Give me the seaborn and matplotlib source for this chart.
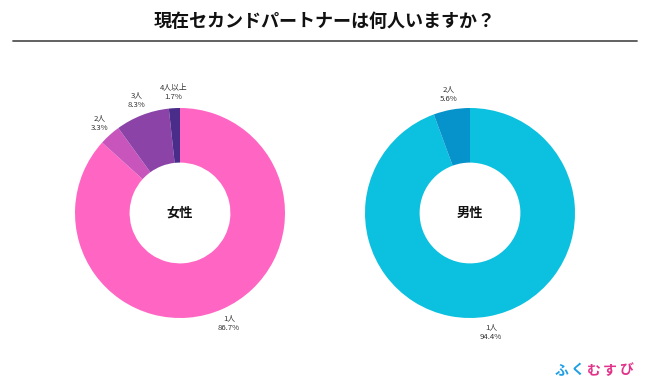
import matplotlib
matplotlib.use("Agg")
import matplotlib.pyplot as plt
import seaborn as sns
from matplotlib.lines import Line2D

sns.set_theme(style="white")
plt.rcParams['font.family'] = ['Noto Sans CJK JP', 'DejaVu Sans']

title = "現在セカンドパートナーは何人いますか？"
female_labels = ["1人", "2人", "3人", "4人以上"]
female_values = [86.7, 3.3, 8.3, 1.7]
female_colors = ["#FF66C4", "#C855BC", "#8C43A8", "#4A2D8A"]
male_labels = ["1人", "2人"]
male_values = [94.4, 5.6]
male_colors = ["#0CC0DF", "#0693CB"]

W, H = 650, 390
fig = plt.figure(figsize=(6.5, 3.9), dpi=100)
fig.patch.set_facecolor("white")

R = 105  # pixel radius
SPAN = 1.4


def make_ax(cx, cy):
    half = R * SPAN
    ax = fig.add_axes([(cx - half) / W, (H - cy - half) / H, 2 * half / W, 2 * half / H])
    ax.set_xlim(-SPAN, SPAN)
    ax.set_ylim(-SPAN, SPAN)
    ax.set_aspect("equal")
    ax.axis("off")
    return ax


def donut(ax, labels, values, colors, center_text):
    texts_in = [f"{l}\n{v:.1f}%" for l, v in zip(labels, values)]
    wedges, texts = ax.pie(values, labels=texts_in, colors=sns.color_palette(colors),
                           startangle=90, counterclock=False, radius=1,
                           labeldistance=1.15,
                           wedgeprops=dict(width=0.52, edgecolor="none"),
                           textprops=dict(fontsize=5.6, color="#333333", linespacing=1.3))
    for t in texts:
        t.set_ha("center")
        t.set_va("center")
        t.set_multialignment("center")
    ax.set_xlim(-SPAN, SPAN)
    ax.set_ylim(-SPAN, SPAN)
    ax.text(0, 0, center_text, ha="center", va="center", fontsize=9.5,
            fontweight="bold", color="#111111")


ax1 = make_ax(180, 213)
donut(ax1, female_labels, female_values, female_colors, "女性")
ax2 = make_ax(470, 213)
donut(ax2, male_labels, male_values, male_colors, "男性")

fig.text(325 / W, 1 - 21 / H, title, ha="center", va="center", fontsize=13,
         fontweight="bold", color="#111111")
fig.add_artist(Line2D([13 / W, 637 / W], [1 - 41 / H, 1 - 41 / H],
                      transform=fig.transFigure, color="#555555", linewidth=1.3))

logo = [("ふ", "#1E9FE3"), ("く", "#1E9FE3"), ("む", "#E2338A"), ("す", "#E2338A"), ("び", "#E2338A")]
x0 = 562
for i, (ch, col) in enumerate(logo):
    fig.text((x0 + i * 16) / W, 1 - 370 / H, ch, ha="center", va="center",
             fontsize=10, color=col, fontweight="bold")

fig.savefig("out.png", dpi=100, facecolor="white")
